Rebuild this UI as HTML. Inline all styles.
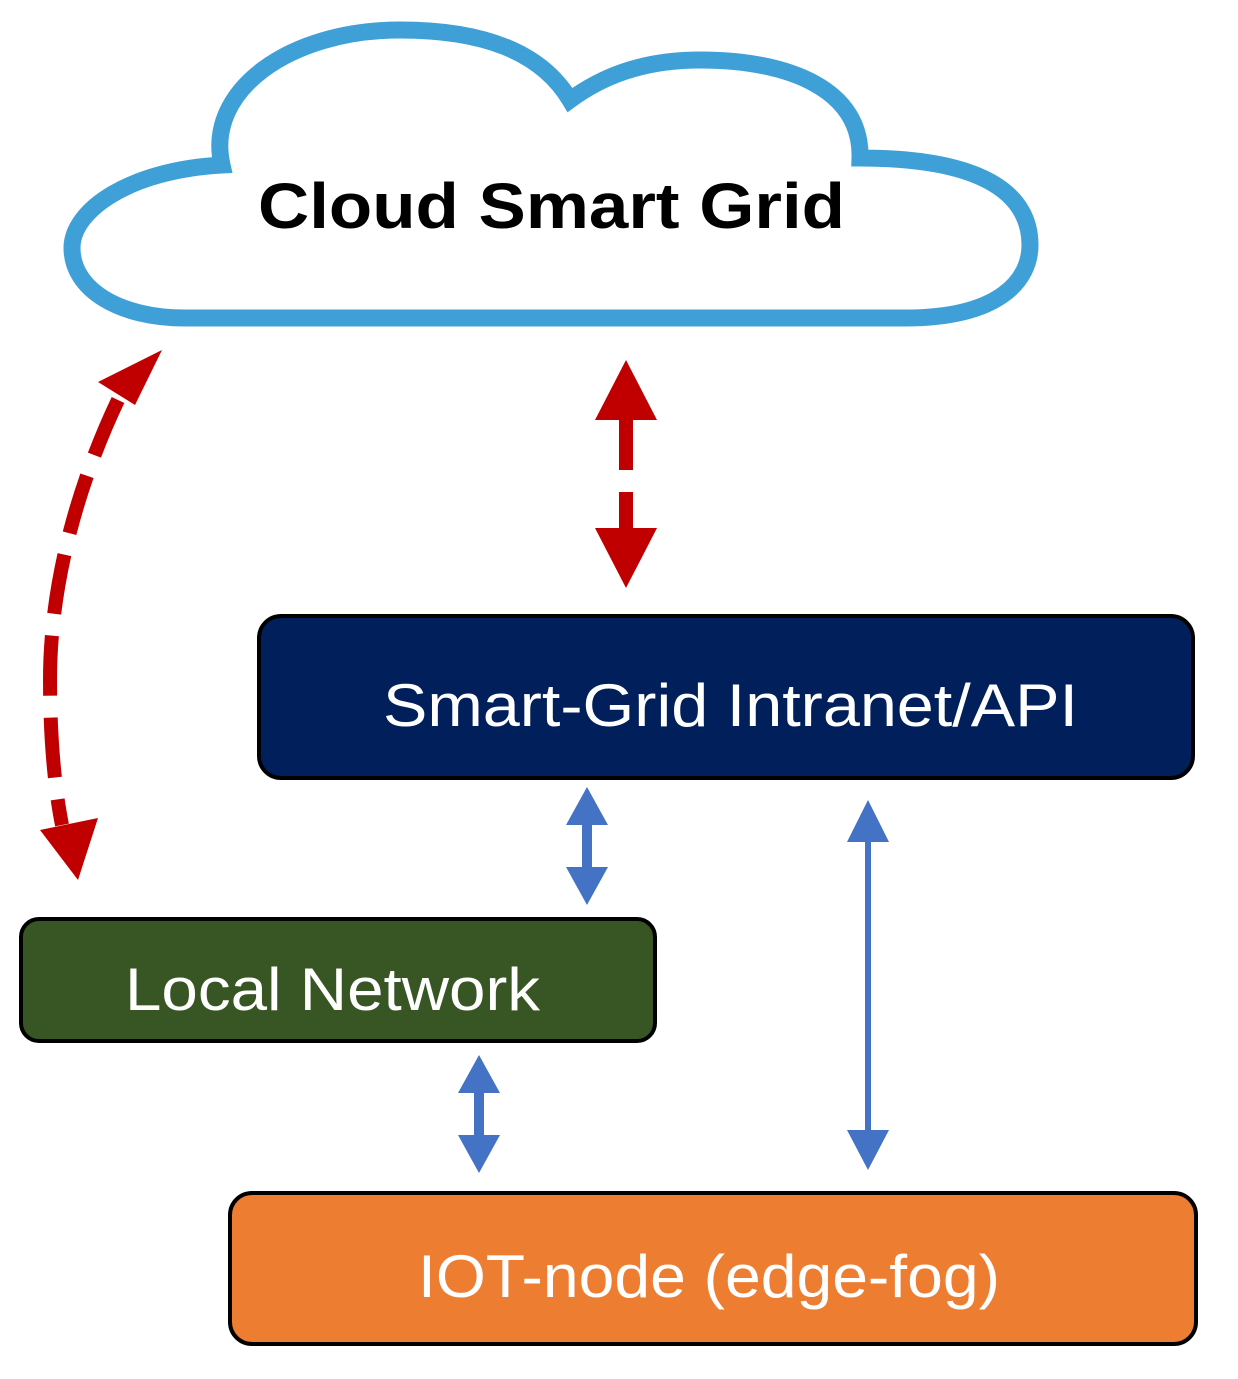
<!DOCTYPE html>
<html><head><meta charset="utf-8"><style>html,body{margin:0;padding:0;background:#fff}svg{display:block}</style></head>
<body>
<svg width="1238" height="1379" viewBox="0 0 1238 1379" xmlns="http://www.w3.org/2000/svg">
<path d="M185 318 L905 318 C1000 318 1030 280 1030 245 C1030 195 985 158 860 158 C862 90 790 60 700 60 C640 60 600 78 570 100 C540 50 480 30 400 30 C290 30 205 90 222 165 C130 170 72 210 72 248 C72 290 120 318 185 318 Z" fill="#fff" stroke="#3FA0D8" stroke-width="17"/>
<text x="258" y="228" font-family="Liberation Sans, sans-serif" font-weight="bold" font-size="64" textLength="587" lengthAdjust="spacingAndGlyphs" fill="#000">Cloud Smart Grid</text>
<g fill="#C00000">
<polygon points="626,360 657,420 595,420"/>
<rect x="619" y="418" width="14" height="52"/>
<rect x="619" y="492" width="14" height="38"/>
<polygon points="626,588 657,528 595,528"/>
</g>
<path d="M118 400 C80 480 50 580 50 680 C50 740 55 790 62 825" fill="none" stroke="#C00000" stroke-width="14" stroke-dasharray="60 22"/>
<polygon points="162,350 135,405 98,382" fill="#C00000"/>
<polygon points="78,880 40,830 98,818" fill="#C00000"/>
<rect x="259" y="616" width="934" height="162" rx="22" fill="#001F5B" stroke="#000" stroke-width="4"/>
<text x="383" y="726" font-family="Liberation Sans, sans-serif" font-size="60" textLength="695" lengthAdjust="spacingAndGlyphs" fill="#fff">Smart-Grid Intranet/API</text>
<rect x="21" y="919" width="634" height="122" rx="18" fill="#385623" stroke="#000" stroke-width="4"/>
<text x="125" y="1010" font-family="Liberation Sans, sans-serif" font-size="60" textLength="415" lengthAdjust="spacingAndGlyphs" fill="#fff">Local Network</text>
<rect x="230" y="1193" width="966" height="151" rx="22" fill="#ED7D31" stroke="#000" stroke-width="4"/>
<text x="418" y="1297" font-family="Liberation Sans, sans-serif" font-size="60" textLength="582" lengthAdjust="spacingAndGlyphs" fill="#fff">IOT-node (edge-fog)</text>
<g fill="#4472C4">
<polygon points="587,787 608,825 566,825"/><rect x="582" y="823" width="10" height="48"/><polygon points="587,905 608,867 566,867"/>
<polygon points="479,1055 500,1093 458,1093"/><rect x="474" y="1091" width="10" height="46"/><polygon points="479,1173 500,1135 458,1135"/>
<polygon points="868,800 889,842 847,842"/><rect x="865" y="840" width="6" height="292"/><polygon points="868,1170 889,1130 847,1130"/>
</g>
</svg>
</body></html>
